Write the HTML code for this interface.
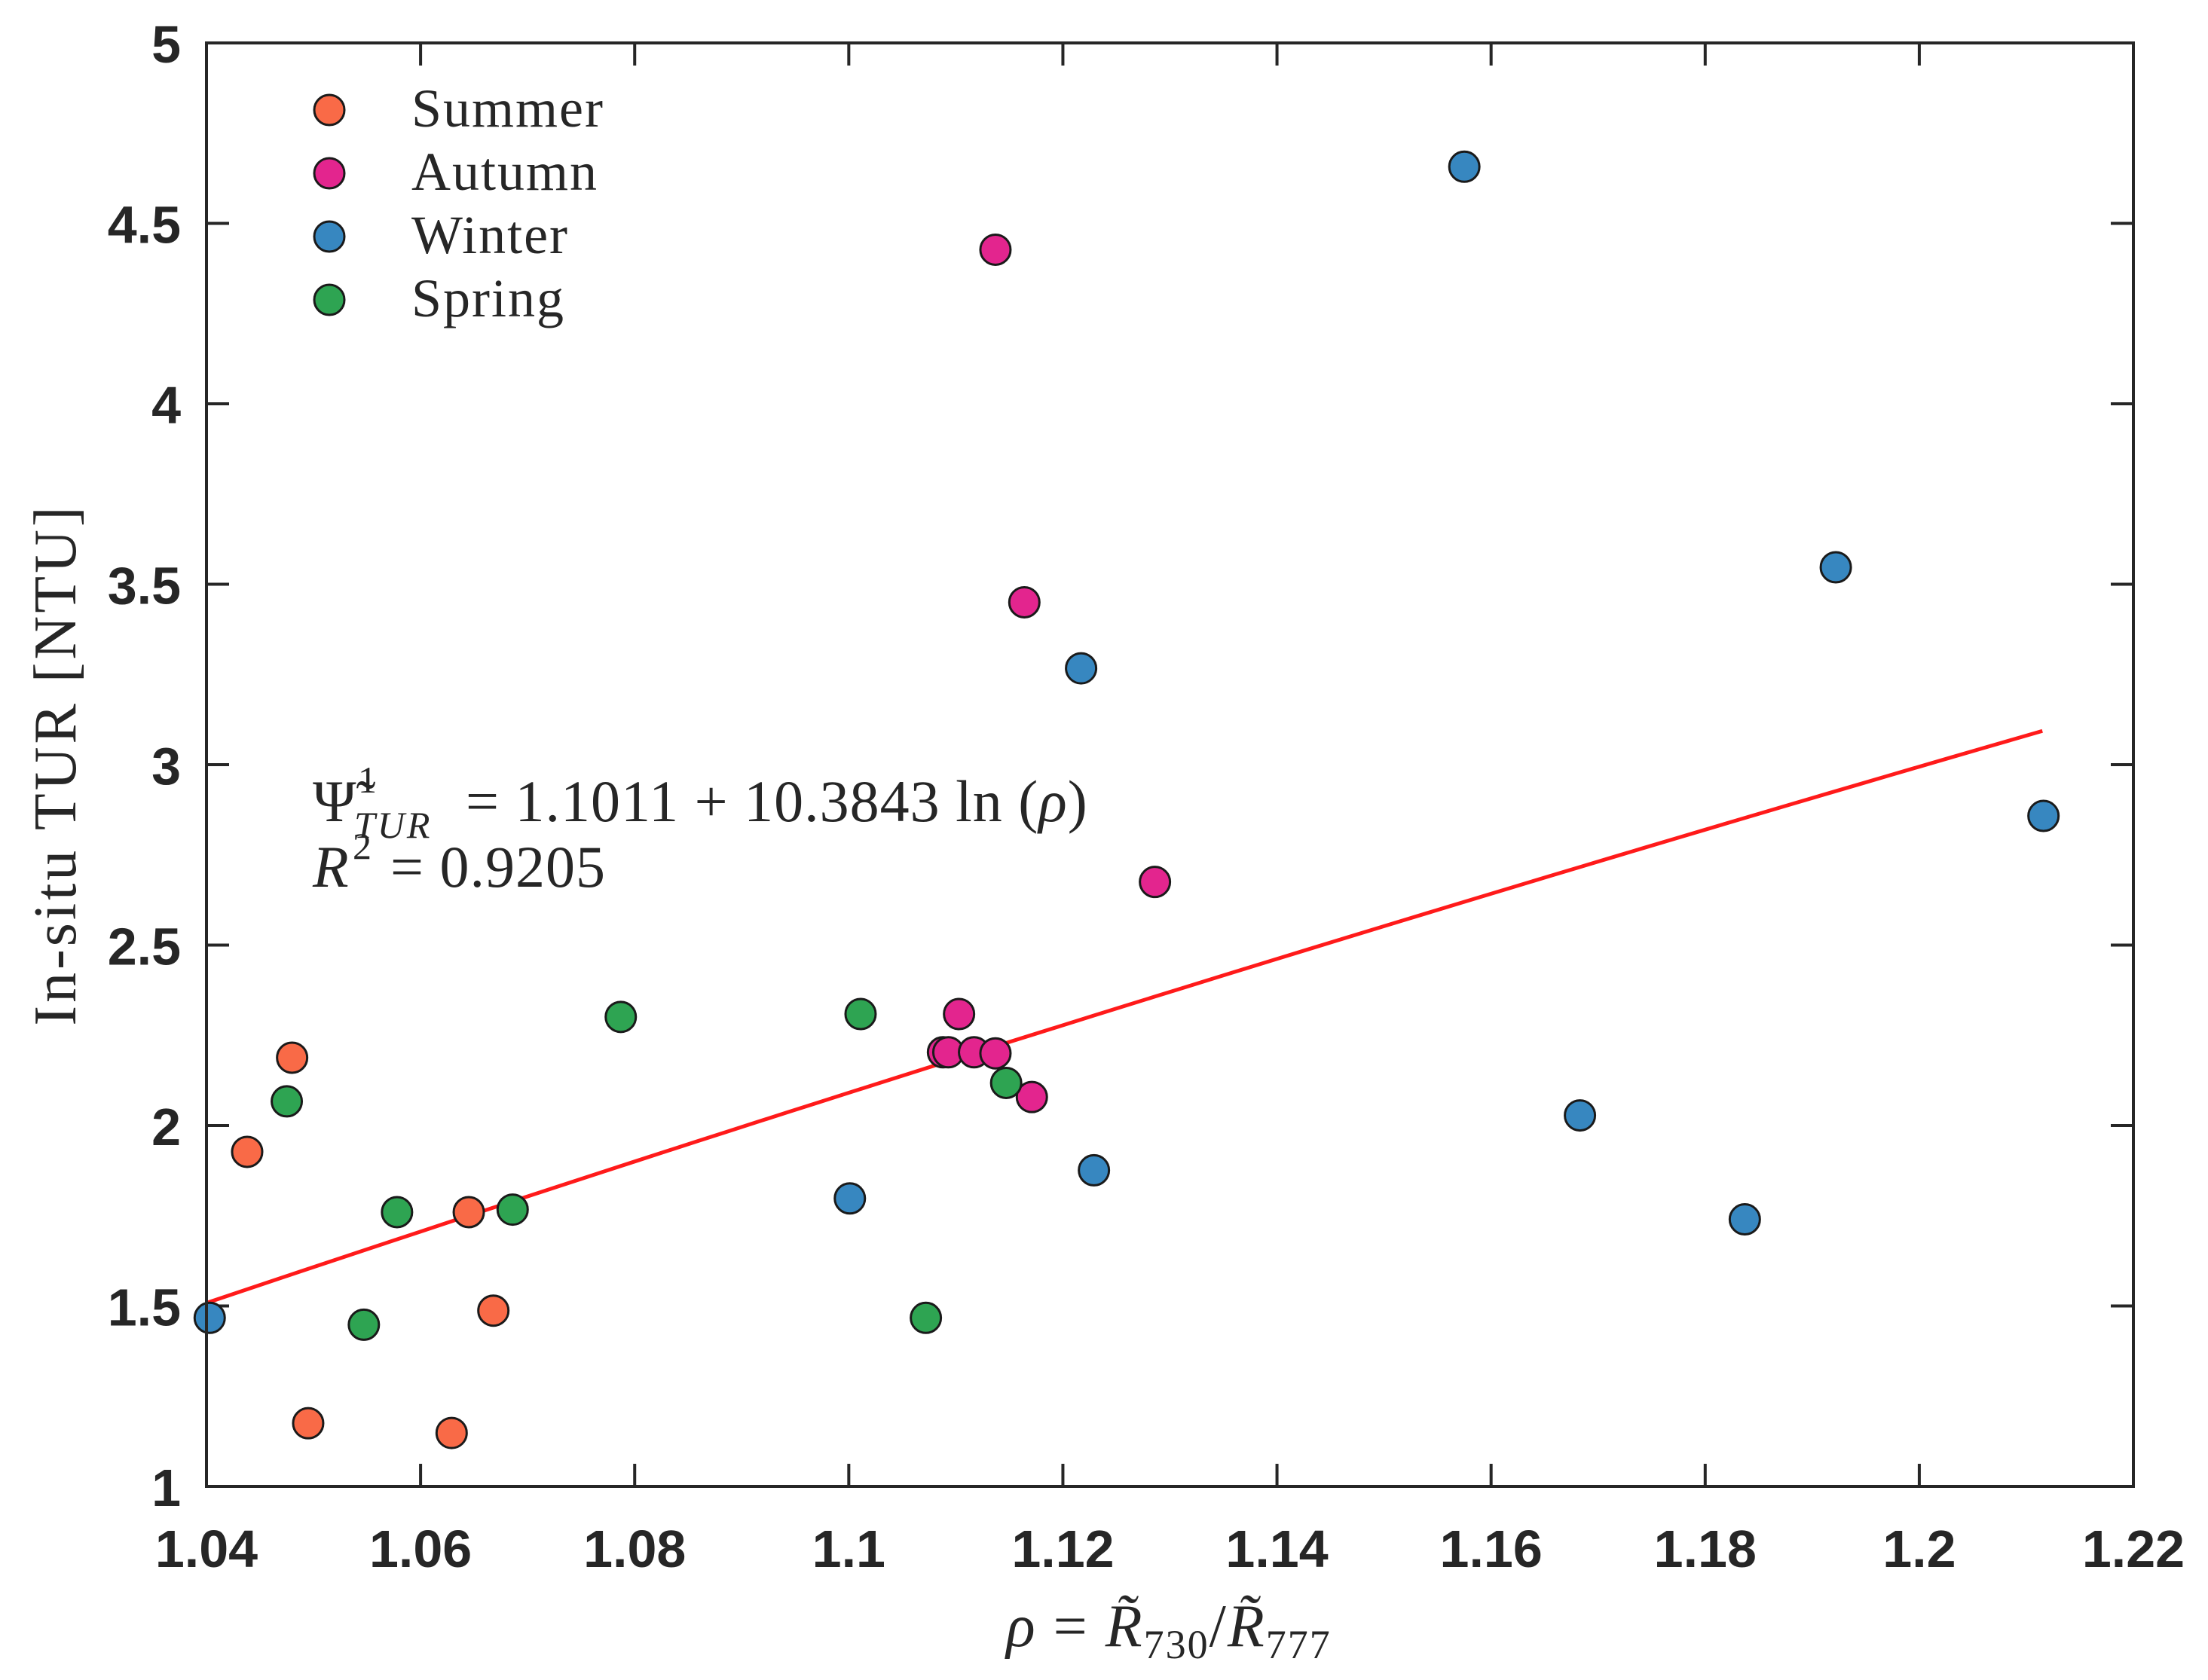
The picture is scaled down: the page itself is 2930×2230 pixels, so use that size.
<!DOCTYPE html>
<html><head><meta charset="utf-8"><style>
html,body{margin:0;padding:0;background:#fff;}
svg{display:block;}
.tick{font-family:"Liberation Sans",sans-serif;font-weight:bold;font-size:70px;fill:#262626;}
.serif{font-family:"Liberation Serif",serif;fill:#262626;}
</style></head><body>
<svg id="chart" width="2930" height="2230" viewBox="0 0 2930 2230" xmlns="http://www.w3.org/2000/svg">
<g id="grid"></g>
<g id="marks"></g>
<rect x="274" y="57" width="2557" height="1916" fill="none" stroke="#262626" stroke-width="4"/>
<g id="legend"></g>
<g>
<text class="serif" x="415" y="1090" font-size="78">Ψ̃</text>
<text class="serif" x="475" y="1052" font-size="50">1</text>
<text class="serif" x="470" y="1112" font-size="50" font-style="italic" letter-spacing="3">TUR</text>
<text class="serif" x="618" y="1090" font-size="78" letter-spacing="1">= 1.1011 + 10.3843 ln (<tspan font-style="italic">ρ</tspan>)</text>
</g>
<g>
<text class="serif" x="415" y="1177" font-size="78" font-style="italic">R</text>
<text class="serif" x="468" y="1140" font-size="50">2</text>
<text class="serif" x="518" y="1177" font-size="78" letter-spacing="1">= 0.9205</text>
</g>
<text class="serif" x="1551" y="2185" font-size="80" text-anchor="middle" letter-spacing="2"><tspan font-style="italic">ρ</tspan> = <tspan font-style="italic">R̃</tspan><tspan font-size="54" dy="16">730</tspan><tspan dy="-16">/</tspan><tspan font-style="italic">R̃</tspan><tspan font-size="54" dy="16">777</tspan></text>
<text class="serif" x="0" y="0" font-size="80" letter-spacing="4" text-anchor="middle" transform="translate(100,1015) rotate(-90)">In-situ TUR [NTU]</text>
</svg>
<script>
const xTicks=[1.04,1.06,1.08,1.1,1.12,1.14,1.16,1.18,1.2,1.22];
const xTickLabels=["1.04","1.06","1.08","1.1","1.12","1.14","1.16","1.18","1.2","1.22"];
const yTicks=[1,1.5,2,2.5,3,3.5,4,4.5,5];
const yTickLabels=["1","1.5","2","2.5","3","3.5","4","4.5","5"];
const seriesNames=["Summer","Autumn","Winter","Spring"];
const seriesColors=["#f96a47","#e3258e","#3787c0","#2ea452"];
const summerX=[1.0438,1.0480,1.0645,1.0668,1.0495,1.0629];
const summerY=[1.927,2.188,1.760,1.487,1.175,1.148];
const autumnX=[1.1137,1.1164,1.1286,1.1103,1.1088,1.1093,1.1117,1.1137,1.1171];
const autumnY=[4.427,3.450,2.675,2.309,2.203,2.203,2.203,2.200,2.079];
const winterX=[1.1575,1.1922,1.1217,1.2116,1.1683,1.1229,1.1001,1.1837,1.0403];
const winterY=[4.657,3.547,3.267,2.858,2.028,1.876,1.798,1.740,1.467];
const springX=[1.0475,1.0787,1.1011,1.1147,1.0578,1.0686,1.0547,1.1072];
const springY=[2.067,2.301,2.309,2.118,1.760,1.767,1.448,1.467];
const fitA=1.1011, fitB=10.3843, fitXStart=1.04, fitXEnd=1.2115;

const L=274,R=2831,T=57,B=1973;
const xs=v=>L+(v-1.04)/(1.22-1.04)*(R-L);
const ys=v=>B-(v-1)/(5-1)*(B-T);
const NS="http://www.w3.org/2000/svg";
function mk(tag,attrs,parent){const e=document.createElementNS(NS,tag);for(const k in attrs)e.setAttribute(k,attrs[k]);parent.appendChild(e);return e;}
const grid=document.getElementById('grid'),marks=document.getElementById('marks'),legend=document.getElementById('legend');
const TL=30;
xTicks.forEach((v,i)=>{const x=xs(v);
 let t=mk('path',{d:`M${x},${B}V${B-TL}M${x},${T}V${T+TL}`,stroke:'#262626','stroke-width':4},grid);
 
 
 let lb=mk('text',{x:x,y:B+107,'text-anchor':'middle',class:'tick'},grid);lb.textContent=xTickLabels[i];
 
 
});
yTicks.forEach((v,i)=>{const y=ys(v);
 let t=mk('path',{d:`M${L},${y}H${L+TL}M${R},${y}H${R-TL}`,stroke:'#262626','stroke-width':4},grid);
 
 
 let lb=mk('text',{x:240,y:y+26,'text-anchor':'end',class:'tick'},grid);lb.textContent=yTickLabels[i];
 
 
});
let pts=[];for(let k=0;k<=60;k++){const xv=fitXStart+(fitXEnd-fitXStart)*k/60;pts.push(xs(xv)+','+ys(fitA+fitB*Math.log(xv)));}
let fl=mk('polyline',{points:pts.join(' '),fill:'none',stroke:'#ff1a1a','stroke-width':5},marks);


const allX=[summerX,autumnX,winterX,springX],allY=[summerY,autumnY,winterY,springY];
allX.forEach((sx,s)=>{sx.forEach((xv,i)=>{
 let c=mk('circle',{cx:xs(xv),cy:ys(allY[s][i]),r:20,fill:seriesColors[s],stroke:'#1a1a1a','stroke-width':3},marks);
 
 
});});
seriesNames.forEach((n,s)=>{const y=146+s*84;
 let c=mk('circle',{cx:437,cy:y,r:20,fill:seriesColors[s],stroke:'#1a1a1a','stroke-width':3},legend);
 
 
 let t=mk('text',{x:546,y:y+22,class:'serif','font-size':72,'letter-spacing':2},legend);t.textContent=n;
 
 
});
</script>
</body></html>
